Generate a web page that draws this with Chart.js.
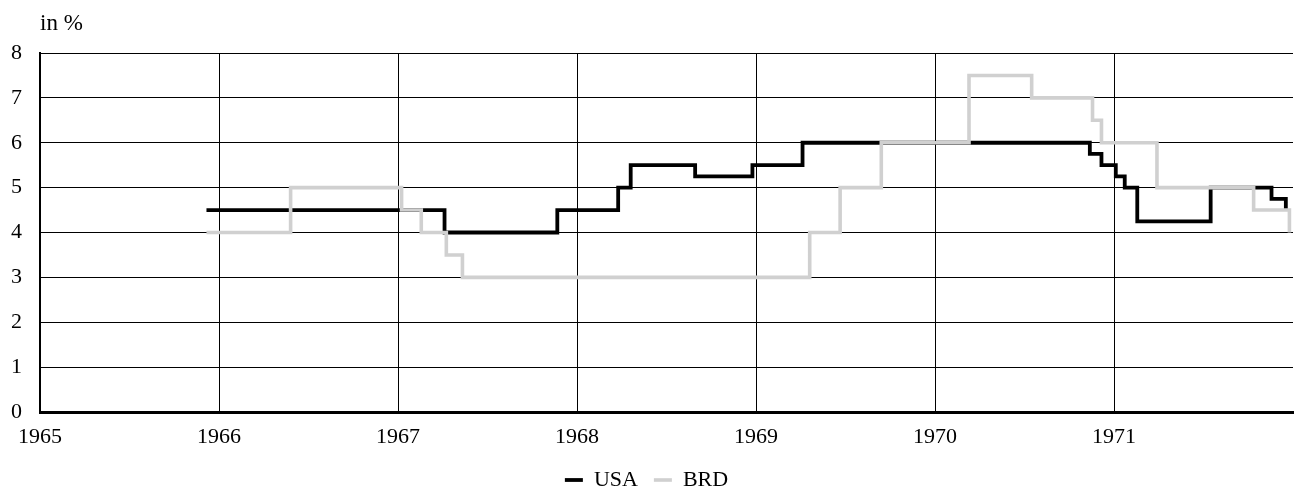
<!DOCTYPE html>
<html>
<head>
<meta charset="utf-8">
<script src="https://cdn.jsdelivr.net/npm/chart.js@4/dist/chart.umd.min.js"></script>
<style>
  html, body { margin: 0; padding: 0; background: #fff; }
  #wrap { width: 1295px; height: 491px; position: relative; }
</style>
</head>
<body>
<div id="wrap"><canvas id="c"></canvas></div>
<script>
// Interest rates (in %), change dates as fractional years
const usaDates = [1965.93, 1967.26, 1967.89, 1968.23, 1968.30, 1968.66, 1968.98, 1969.26, 1970.865, 1970.93, 1971.01, 1971.06, 1971.13, 1971.54, 1971.88, 1971.96];
const usaRates = [4.5, 4.0, 4.5, 5.0, 5.5, 5.25, 5.5, 6.0, 5.75, 5.5, 5.25, 5.0, 4.25, 5.0, 4.75, 4.5];
const brdDates = [1965.93, 1966.40, 1967.02, 1967.13, 1967.27, 1967.36, 1969.30, 1969.47, 1969.70, 1970.19, 1970.54, 1970.88, 1970.93, 1971.24, 1971.78, 1971.98];
const brdRates = [4.0, 5.0, 4.5, 4.0, 3.5, 3.0, 4.0, 5.0, 6.0, 7.5, 7.0, 6.5, 6.0, 5.0, 4.5, 4.0];
const xTickYears = [1965, 1966, 1967, 1968, 1969, 1970, 1971];
const seriesNames = ['USA', 'BRD'];
const unitLabel = 'in %';

const FONT = 'Liberation Serif';
const FS = 22;
const toPts = (xs, ys) => xs.map((x, i) => ({ x: x, y: ys[i] }));

const unitPlugin = {
  id: 'unitLabel',
  afterDraw(chart) {
    const ctx = chart.ctx;
    ctx.save();
    ctx.fillStyle = '#000';
    ctx.font = '23px "' + FONT + '"';
    ctx.textBaseline = 'middle';
    ctx.textAlign = 'left';
    ctx.fillText(unitLabel, chart.chartArea.left, 24);
    ctx.restore();
  }
};

new Chart(document.getElementById('c'), {
  type: 'line',
  data: {
    datasets: [
      { label: seriesNames[0], data: toPts(usaDates, usaRates), borderColor: '#000', backgroundColor: '#000', borderWidth: 3.8, stepped: 'before', pointRadius: 0, order: 2 },
      { label: seriesNames[1], data: toPts(brdDates, brdRates), borderColor: '#d0d0d0', backgroundColor: '#d0d0d0', borderWidth: 3.6, stepped: 'before', pointRadius: 0, order: 1 }
    ]
  },
  options: {
    responsive: true,
    maintainAspectRatio: false,
    animation: false,
    layout: { padding: { top: 53, right: 2, left: 0, bottom: 0 } },
    plugins: {
      tooltip: { enabled: false },
      legend: {
        position: 'bottom',
        maxHeight: 38,
        labels: {
          sort: (a, b) => a.datasetIndex - b.datasetIndex,
          usePointStyle: true,
          pointStyle: 'line',
          pointStyleWidth: 18,
          color: '#000',
          font: { family: FONT, size: FS },
          padding: 16
        }
      }
    },
    scales: {
      x: {
        type: 'linear',
        min: 1965,
        max: 1972,
        afterBuildTicks: (axis) => { axis.ticks = xTickYears.map(v => ({ value: v })); },
        afterFit: (axis) => { axis.height = 41; },
        ticks: { color: '#000', font: { family: FONT, size: FS }, padding: 12, maxRotation: 0, autoSkip: false, callback: (v) => String(v) },
        grid: { color: '#000', lineWidth: 1, drawTicks: false },
        border: { color: '#000', width: 3 }
      },
      y: {
        min: 0,
        max: 8,
        afterFit: (axis) => { axis.width = 40; },
        ticks: { stepSize: 1, color: '#000', font: { family: FONT, size: FS }, padding: 18 },
        grid: { color: '#000', lineWidth: 1, drawTicks: false },
        border: { color: '#000', width: 2 }
      }
    }
  },
  plugins: [unitPlugin]
});
</script>
</body>
</html>
